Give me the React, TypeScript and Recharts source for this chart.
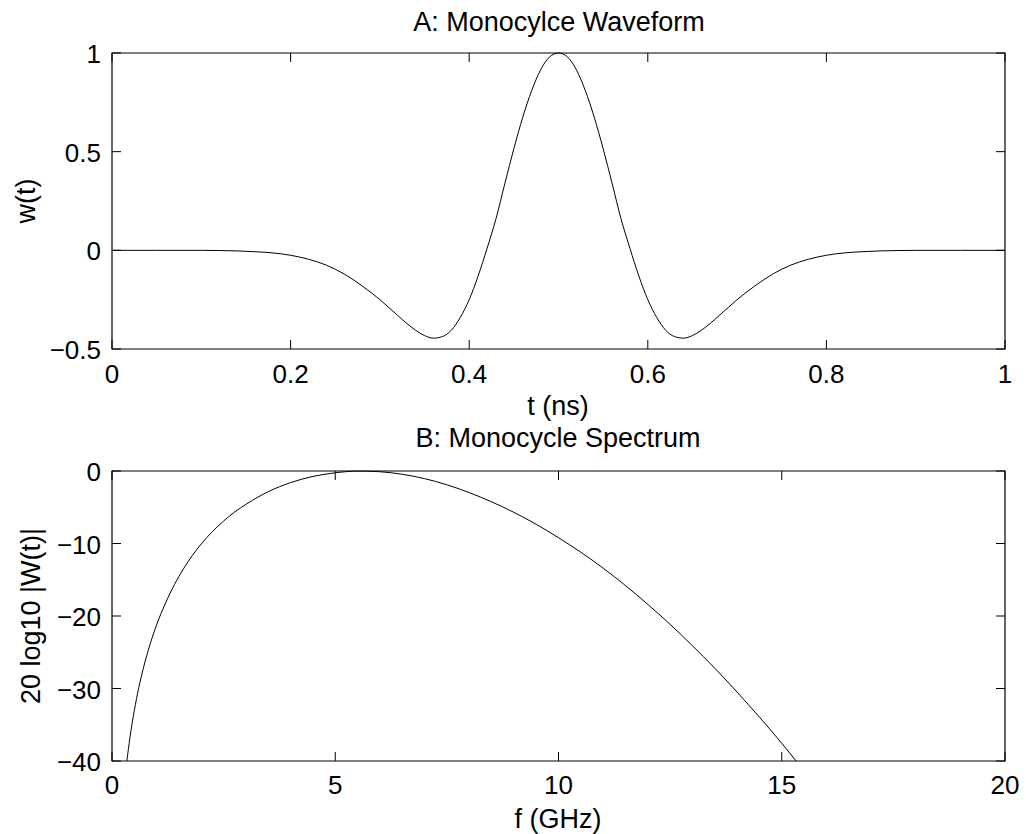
import React from "react";
import { LineChart, Line, XAxis, YAxis, ReferenceArea } from "recharts";

// ---- Data: panel A (monocycle waveform) ----
const timeNs = [
  0, 0.05, 0.1, 0.12, 0.14, 0.16, 0.18, 0.2, 0.22, 0.24, 0.26, 0.28, 0.3, 0.31, 0.32, 0.33, 0.34, 0.35,
  0.36, 0.37, 0.38, 0.39, 0.4, 0.41, 0.42, 0.43, 0.44, 0.45, 0.46, 0.47, 0.48, 0.49, 0.5,
  0.51, 0.52, 0.53, 0.54, 0.55, 0.56, 0.57, 0.58, 0.59, 0.6, 0.61, 0.62, 0.63, 0.64, 0.65,
  0.66, 0.67, 0.68, 0.69, 0.7, 0.72, 0.74, 0.76, 0.78, 0.8, 0.82, 0.84, 0.86, 0.88, 0.9, 0.95, 1,
];
const waveform = [
  0, 0, 0, -0.001, -0.003, -0.007, -0.013, -0.025, -0.045, -0.075, -0.12, -0.18, -0.25, -0.29, -0.33, -0.37, -0.405, -0.432,
  -0.445, -0.437, -0.405, -0.34, -0.25, -0.13, 0.01, 0.16, 0.34, 0.515, 0.675, 0.81, 0.915, 0.98, 1.0,
  0.98, 0.915, 0.81, 0.675, 0.515, 0.34, 0.16, 0.01, -0.13, -0.25, -0.34, -0.405, -0.437, -0.445, -0.432,
  -0.405, -0.37, -0.33, -0.29, -0.25, -0.18, -0.12, -0.075, -0.045, -0.025, -0.013, -0.007, -0.003, -0.001, 0, 0, 0,
];
const xTicksA = [0, 0.2, 0.4, 0.6, 0.8, 1];
const yTicksA = [-0.5, 0, 0.5, 1];

// ---- Data: panel B (monocycle spectrum) ----
const freqGHz = [
  0.333, 0.4, 0.5, 0.6, 0.7, 0.8, 0.9, 1.0, 1.2, 1.4, 1.6, 1.8, 2.0, 2.25, 2.5, 2.75, 3.0, 3.5, 4.0, 4.5,
  5.0, 5.5, 6.0, 6.5, 7.0, 7.5, 8.0, 8.5, 9.0, 9.5, 10.0, 10.5, 11.0, 11.5, 12.0, 12.5, 13.0, 13.5,
  14.0, 14.5, 15.0, 15.32,
];
const spectrumDb = [
  -40, -36.85, -33.02, -29.89, -27.25, -24.97, -22.98, -21.2, -18.2, -15.65, -13.5, -11.65, -10.05, -8.35, -6.9, -5.65, -4.6, -2.85, -1.6, -0.75,
  -0.25, -0.01, -0.1, -0.45, -1.05, -1.9, -2.98, -4.25, -5.7, -7.35, -9.2, -11.2, -13.4, -15.8, -18.4, -21.15, -24.1, -27.2,
  -30.5, -33.95, -37.55, -40,
];
const xTicksB = [0, 5, 10, 15, 20];
const yTicksB = [-40, -30, -20, -10, 0];

const dataA = timeNs.map((t, i) => ({ t, w: waveform[i] }));
const dataB = freqGHz.map((f, i) => ({ f, db: spectrumDb[i] }));

const FONT = "'Liberation Sans', Arial, Helvetica, sans-serif";
const FS = 26;
const W = 1026;
const LEFT = 112;
const RIGHT = 1005;
const TICK = 9;

const fmt = (v: number) => (v < 0 ? "\u2212" + String(Math.abs(v)) : String(v));

function makeXTick(top: number, bottom: number, dy: number) {
  return (props: any) => {
    const { x, payload } = props;
    return (
      <g>
        <line x1={x} x2={x} y1={bottom} y2={bottom - TICK} stroke="#000" strokeWidth={1} />
        <line x1={x} x2={x} y1={top} y2={top + TICK} stroke="#000" strokeWidth={1} />
        <text x={x} y={bottom + dy} textAnchor="middle" fontFamily={FONT} fontSize={FS} fill="#000">
          {fmt(payload.value)}
        </text>
      </g>
    );
  };
}

function makeYTick() {
  return (props: any) => {
    const { y, payload } = props;
    return (
      <g>
        <line x1={LEFT} x2={LEFT + TICK} y1={y} y2={y} stroke="#000" strokeWidth={1} />
        <line x1={RIGHT} x2={RIGHT - TICK} y1={y} y2={y} stroke="#000" strokeWidth={1} />
        <text x={LEFT - 11} y={y + 10} textAnchor="end" fontFamily={FONT} fontSize={FS} fill="#000">
          {fmt(payload.value)}
        </text>
      </g>
    );
  };
}

export default function App() {
  const hA = 420;
  const topA = 53;
  const botA = 349;
  const hB = 414;
  const topB = 51;
  const botB = 341;

  return (
    <div style={{ position: "absolute", left: 0, top: 0, width: W, height: 834, background: "#fff" }}>
      <div style={{ position: "absolute", left: 0, top: 0 }}>
        <LineChart
          width={W}
          height={hA}
          data={dataA}
          margin={{ top: topA, right: W - RIGHT, bottom: hA - botA - 30, left: LEFT - 60 }}
        >
          <XAxis
            dataKey="t"
            type="number"
            domain={[0, 1]}
            ticks={xTicksA}
            height={30}
            axisLine={false}
            tickLine={false}
            tickSize={0}
            tickMargin={0}
            interval={0}
            tick={makeXTick(topA, botA, 34)}
          />
          <YAxis
            type="number"
            domain={[-0.5, 1]}
            ticks={yTicksA}
            width={60}
            axisLine={false}
            tickLine={false}
            tickSize={0}
            tickMargin={0}
            interval={0}
            tick={makeYTick()}
          />
          <ReferenceArea x1={0} x2={1} y1={-0.5} y2={1} fill="none" fillOpacity={0} stroke="#000" strokeWidth={1.2} />
          <Line
            dataKey="w"
            type="monotone"
            stroke="#000"
            strokeWidth={1}
            dot={false}
            activeDot={false}
            isAnimationActive={false}
          />
        </LineChart>
      </div>
      <div style={{ position: "absolute", left: 0, top: hA }}>
        <LineChart
          width={W}
          height={hB}
          data={dataB}
          margin={{ top: topB, right: W - RIGHT, bottom: hB - botB - 30, left: LEFT - 60 }}
        >
          <XAxis
            dataKey="f"
            type="number"
            domain={[0, 20]}
            ticks={xTicksB}
            height={30}
            axisLine={false}
            tickLine={false}
            tickSize={0}
            tickMargin={0}
            interval={0}
            tick={makeXTick(topB, botB, 33)}
          />
          <YAxis
            type="number"
            domain={[-40, 0]}
            ticks={yTicksB}
            width={60}
            axisLine={false}
            tickLine={false}
            tickSize={0}
            tickMargin={0}
            interval={0}
            tick={makeYTick()}
          />
          <ReferenceArea x1={0} x2={20} y1={-40} y2={0} fill="none" fillOpacity={0} stroke="#000" strokeWidth={1.2} />
          <Line
            dataKey="db"
            type="monotone"
            stroke="#000"
            strokeWidth={1}
            dot={false}
            activeDot={false}
            isAnimationActive={false}
          />
        </LineChart>
      </div>
      <svg
        width={W}
        height={834}
        style={{ position: "absolute", left: 0, top: 0, pointerEvents: "none" }}
        fontFamily={FONT}
        fontSize={27}
        fill="#000"
      >
        <text x={559} y={31} textAnchor="middle">A: Monocylce Waveform</text>
        <text x={558} y={415} textAnchor="middle">t (ns)</text>
        <text x={558} y={447} textAnchor="middle">B: Monocycle Spectrum</text>
        <text x={558} y={828} textAnchor="middle">f (GHz)</text>
        <text transform="translate(35,201) rotate(-90)" textAnchor="middle">w(t)</text>
        <text transform="translate(40,616) rotate(-90)" textAnchor="middle">20 log10 |W(t)|</text>
      </svg>
    </div>
  );
}
